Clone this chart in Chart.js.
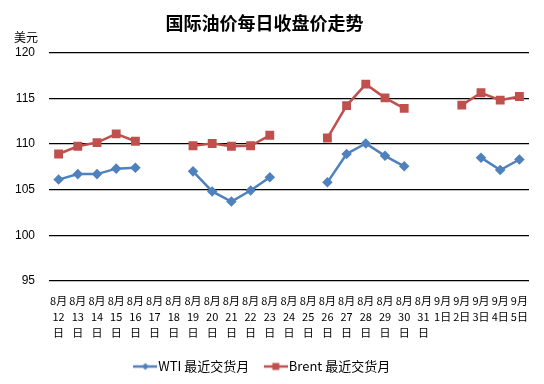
<!DOCTYPE html>
<html><head><meta charset="utf-8">
<script src="https://cdn.jsdelivr.net/npm/chart.js@4/dist/chart.umd.min.js"></script>
<style>html,body{margin:0;padding:0;background:#fff}#wrap{width:544px;height:384px}</style>
</head><body><div id="wrap"><canvas id="c" width="544" height="384"></canvas></div>
<script>
const categories = [
  ["8月","12","日"],["8月","13","日"],["8月","14","日"],["8月","15","日"],["8月","16","日"],
  ["8月","17","日"],["8月","18","日"],["8月","19","日"],["8月","20","日"],["8月","21","日"],
  ["8月","22","日"],["8月","23","日"],["8月","24","日"],["8月","25","日"],["8月","26","日"],
  ["8月","27","日"],["8月","28","日"],["8月","29","日"],["8月","30","日"],["8月","31","日"],
  ["9月","1日"],["9月","2日"],["9月","3日"],["9月","4日"],["9月","5日"]
];
const wti = [106.1,106.7,106.7,107.3,107.4,null,null,107.0,104.8,103.7,104.9,106.35,null,null,105.8,108.9,110.05,108.7,107.55,null,null,null,108.5,107.15,108.3];
const brent = [108.9,109.75,110.15,111.1,110.3,null,null,109.8,110.05,109.75,109.8,110.95,null,null,110.65,114.2,116.55,115.05,113.9,null,null,114.25,115.6,114.8,115.2];
const yTicks = [95,100,105,110,115,120];
const seriesNames = ["WTI 最近交货月","Brent 最近交货月"];
const colors = ["#4F81BD","#C0504D"];

function legendIcon(color, style){
  const cv = document.createElement('canvas');
  cv.width = 24; cv.height = 10;
  const g = cv.getContext('2d');
  g.strokeStyle = color; g.lineWidth = 2.5;
  g.beginPath(); g.moveTo(0,5); g.lineTo(24,5); g.stroke();
  g.fillStyle = color;
  if(style==='diamond'){ g.beginPath(); g.moveTo(12,1.5); g.lineTo(15.5,5); g.lineTo(12,8.5); g.lineTo(8.5,5); g.closePath(); g.fill(); }
  else { g.fillRect(8.5,1.5,7,7); }
  return cv;
}
const icons = [legendIcon(colors[0],'diamond'), legendIcon(colors[1],'square')];

const unitLabel = {
  id:'unitLabel',
  afterDraw(chart){
    const ctx = chart.ctx;
    ctx.save();
    ctx.font = '12px "Noto Sans CJK SC"';
    ctx.fillStyle = '#000';
    ctx.textAlign = 'left'; ctx.textBaseline = 'middle';
    ctx.fillText('美元', 14, 37);
    ctx.restore();
  }
};

new Chart(document.getElementById('c'), {
  type:'line',
  data:{
    labels: categories,
    datasets:[
      {label:seriesNames[0], data:wti, borderColor:colors[0], backgroundColor:colors[0], borderWidth:2.5,
       pointStyle:'rectRot', pointRadius:3.5, pointHoverRadius:3.5, spanGaps:false, tension:0},
      {label:seriesNames[1], data:brent, borderColor:colors[1], backgroundColor:colors[1], borderWidth:2.5,
       pointStyle:'rect', pointRadius:4.5, pointHoverRadius:4.5, spanGaps:false, tension:0}
    ]
  },
  options:{
    responsive:false, animation:false,
    layout:{padding:{left:0,right:15,top:0,bottom:1}},
    plugins:{
      title:{display:true, text:'国际油价每日收盘价走势', color:'#000',
        font:{family:'"Noto Sans CJK SC"', size:18, weight:'bold'}, padding:{top:12,bottom:19}},
      legend:{position:'bottom', labels:{
        usePointStyle:true, color:'#000', padding:20,
        font:{family:'"Noto Sans CJK SC"', size:13},
        generateLabels(chart){
          return chart.data.datasets.map((d,i)=>({text:d.label, pointStyle:icons[i], fillStyle:d.borderColor,
            strokeStyle:d.borderColor, lineWidth:0, hidden:false, datasetIndex:i, fontColor:'#000'}));
        }
      }},
      tooltip:{enabled:false}
    },
    scales:{
      x:{type:'category', offset:true,
        afterFit(s){ s.height = 59; },
        grid:{display:false, drawTicks:false},
        border:{display:false},
        ticks:{autoSkip:false, maxRotation:0, minRotation:0, color:'#000', padding:12,
          font:{family:'"Noto Sans CJK SC"', size:11, lineHeight:1.45}}},
      y:{min:95, max:120,
        afterBuildTicks(s){ s.ticks = yTicks.map(v=>({value:v})); },
        afterFit(s){ s.width = 49; },
        grid:{color:'#000', lineWidth:1.2, drawTicks:false},
        border:{display:false},
        ticks:{color:'#000', padding:14, font:{family:'"Liberation Sans"', size:12}}}
    }
  },
  plugins:[unitLabel]
});
</script></body></html>
